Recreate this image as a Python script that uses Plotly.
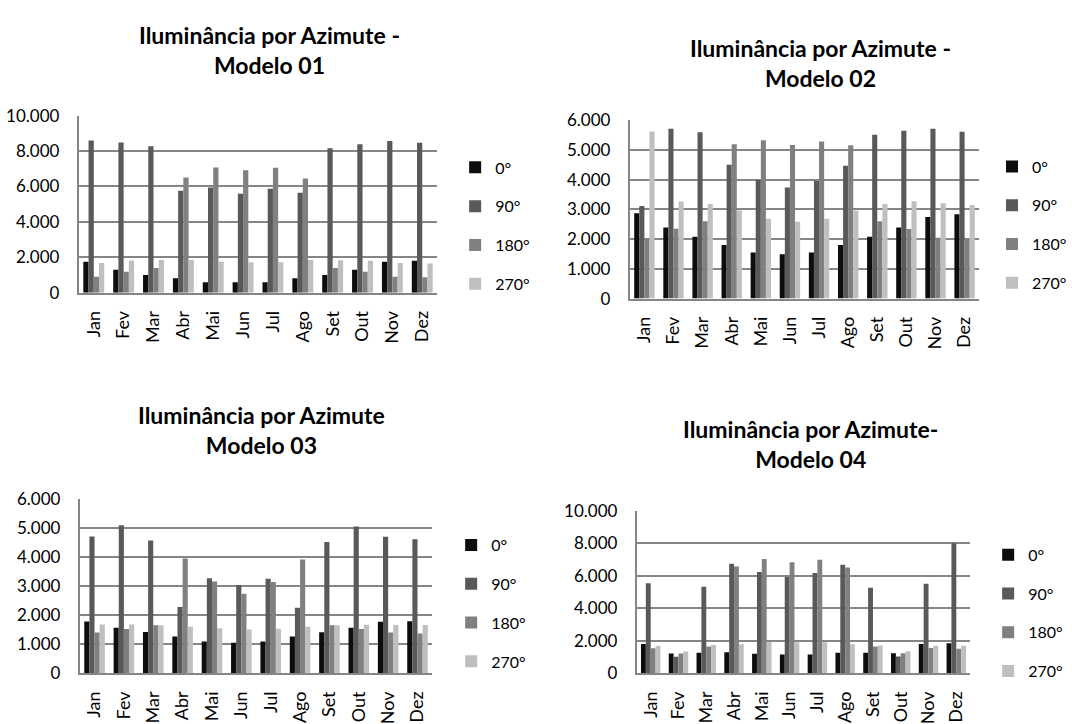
import plotly.graph_objects as go

months = ["Jan", "Fev", "Mar", "Abr", "Mai", "Jun", "Jul", "Ago", "Set", "Out", "Nov", "Dez"]
series_names = ["0°", "90°", "180°", "270°"]

# Modelo 01
m1_0 = [1750, 1300, 1000, 820, 600, 600, 600, 820, 1000, 1300, 1750, 1800]
m1_90 = [8600, 8480, 8270, 5750, 5940, 5590, 5865, 5650, 8150, 8380, 8560, 8470]
m1_180 = [900, 1180, 1400, 6500, 7070, 6920, 7050, 6450, 1400, 1180, 900, 880]
m1_270 = [1680, 1820, 1850, 1850, 1750, 1720, 1720, 1850, 1830, 1800, 1680, 1650]

# Modelo 02
m2_0 = [2870, 2390, 2080, 1800, 1550, 1490, 1550, 1800, 2080, 2390, 2750, 2840]
m2_90 = [3120, 5720, 5600, 4510, 4000, 3740, 3960, 4470, 5520, 5650, 5720, 5620]
m2_180 = [2030, 2350, 2600, 5200, 5330, 5170, 5290, 5160, 2600, 2340, 2050, 2000]
m2_270 = [5630, 3270, 3185, 2970, 2685, 2590, 2685, 2970, 3185, 3280, 3210, 3150]

# Modelo 03
m3_0 = [1780, 1570, 1425, 1270, 1090, 1050, 1090, 1270, 1415, 1565, 1770, 1795]
m3_90 = [4710, 5100, 4570, 2280, 3270, 3040, 3250, 2255, 4520, 5050, 4700, 4610]
m3_180 = [1400, 1525, 1650, 3950, 3160, 2740, 3140, 3920, 1650, 1525, 1400, 1365]
m3_270 = [1680, 1680, 1650, 1600, 1550, 1510, 1535, 1600, 1650, 1670, 1665, 1665]

# Modelo 04
m4_0 = [1800, 1220, 1260, 1300, 1200, 1160, 1160, 1260, 1260, 1230, 1806, 1845]
m4_90 = [5536, 1020, 5317, 6726, 6230, 5913, 6170, 6667, 5258, 1032, 5496, 7990]
m4_180 = [1540, 1220, 1640, 6567, 7024, 6825, 6984, 6508, 1640, 1230, 1548, 1508]
m4_270 = [1680, 1340, 1740, 1780, 1920, 1900, 1900, 1780, 1700, 1349, 1687, 1687]

titles = ["Iluminância por Azimute -<br>Modelo 01",
          "Iluminância por Azimute -<br>Modelo 02",
          "Iluminância por Azimute<br>Modelo 03",
          "Iluminância por Azimute-<br>Modelo 04"]

colors = ["#0d0d0d", "#595959", "#808080", "#bfbfbf"]

W, H = 1072, 724
FONT = "Lato, Carlito, Open Sans, sans-serif"
GRID = "#868686"

models = [
    [m1_0, m1_90, m1_180, m1_270],
    [m2_0, m2_90, m2_180, m2_270],
    [m3_0, m3_90, m3_180, m3_270],
    [m4_0, m4_90, m4_180, m4_270],
]

# pixel geometry of each panel: (left, right, top, bottom)
panels = [(79, 438, 108, 291), (631, 981, 113, 297), (80, 433, 504, 684), (638, 972, 516, 684)]
yranges = [(10000, 2000), (6000, 1000), (6000, 1000), (10000, 2000)]
title_pos = [(270, 40), (822, 54), (262, 433), (812, 447)]
legend_pos = [(456, 222), (994, 221), (452, 612), (990, 622)]

fig = go.Figure()
layout = dict(
    width=W, height=H, margin=dict(l=0, r=0, t=0, b=0),
    paper_bgcolor="white", plot_bgcolor="white",
    barmode="group", bargap=0.3, bargroupgap=0,
    separators=",.",
    font=dict(family=FONT, size=17, color="#000000"),
    annotations=[],
)

for i, (data, (l, r, t, b), (ymax, dt)) in enumerate(zip(models, panels, yranges)):
    sfx = "" if i == 0 else str(i + 1)
    lg = "legend" if i == 0 else "legend" + str(i + 1)
    for j, (vals, name) in enumerate(zip(data, series_names)):
        fig.add_trace(go.Bar(
            x=months, y=vals, name=name,
            marker=dict(color=colors[j], line=dict(width=0)),
            xaxis="x" + sfx, yaxis="y" + sfx,
            legend=lg, legendgroup=f"g{i}_{j}",
            hoverinfo="skip",
        ))
    layout["xaxis" + sfx] = dict(
        domain=[l / W, r / W], anchor="y" + sfx,
        type="category", tickangle=-90, showline=True, linecolor=GRID, linewidth=2,
        showgrid=False, ticks="", ticklabelstandoff=9,
        tickfont=dict(family=FONT, size=18, color="#000000"),
        categoryorder="array", categoryarray=months,
    )
    layout["yaxis" + sfx] = dict(
        domain=[1 - b / H, 1 - t / H], anchor="x" + sfx,
        range=[0, ymax], dtick=dt, tick0=0, tickformat=",d",
        showline=True, linecolor=GRID, linewidth=2,
        showgrid=True, gridcolor=GRID, gridwidth=1.5,
        zeroline=False, ticks="", ticklabelstandoff=14,
        tickfont=dict(family=FONT, size=17, color="#000000"),
    )
    lx, ly = legend_pos[i]
    layout[lg] = dict(
        x=lx / W, y=1 - ly / H, xanchor="left", yanchor="middle",
        bgcolor="rgba(0,0,0,0)", borderwidth=0,
        font=dict(family=FONT, size=16, color="#000000"),
        tracegroupgap=15, itemclick=False, itemdoubleclick=False,
    )
    tx, ty = title_pos[i]
    layout["annotations"].append(dict(
        text="<b>" + titles[i] + "</b>", x=tx / W, y=1 - ty / H,
        xref="paper", yref="paper", xanchor="center", yanchor="middle",
        showarrow=False, align="center",
        font=dict(family=FONT, size=23, color="#000000"),
    ))

fig.update_layout(**layout)
fig.write_html(
    "out.html",
    config={"displayModeBar": False},
    post_script="document.body.style.margin='0px';document.body.style.overflow='hidden';",
)
